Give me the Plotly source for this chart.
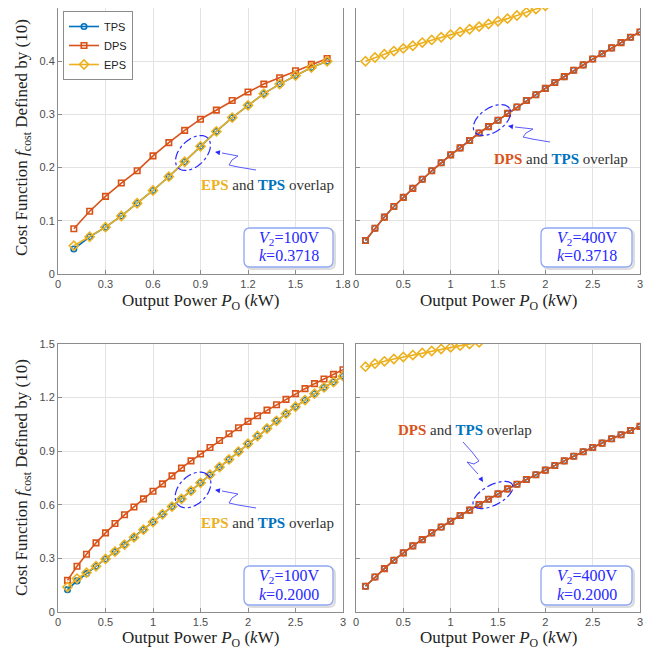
import numpy as np
import plotly.graph_objects as go

OFF = 8                    # page body margin of the html page
W, H = 663 - OFF, 655 - OFF

# ---------------- data ----------------
x_tl = [0.1, 0.2, 0.3, 0.4, 0.5, 0.6, 0.7, 0.8, 0.9, 1.0, 1.1, 1.2, 1.3, 1.4, 1.5, 1.6, 1.7]
tps_tl = [0.047, 0.070, 0.088, 0.109, 0.133, 0.157, 0.183, 0.211, 0.240, 0.268, 0.294, 0.317, 0.339, 0.357, 0.373, 0.388, 0.400]
dps_tl = [0.085, 0.118, 0.146, 0.171, 0.194, 0.222, 0.247, 0.270, 0.291, 0.308, 0.326, 0.342, 0.357, 0.369, 0.382, 0.394, 0.405]
eps_tl = [0.053, 0.070, 0.088, 0.109, 0.133, 0.157, 0.183, 0.211, 0.240, 0.268, 0.294, 0.317, 0.339, 0.357, 0.373, 0.388, 0.400]

x_30 = [0.1, 0.2, 0.3, 0.4, 0.5, 0.6, 0.7, 0.8, 0.9, 1.0, 1.1, 1.2, 1.3, 1.4, 1.5,
        1.6, 1.7, 1.8, 1.9, 2.0, 2.1, 2.2, 2.3, 2.4, 2.5, 2.6, 2.7, 2.8, 2.9, 3.0]

dps_tr = [0.063, 0.086, 0.107, 0.127, 0.144, 0.161, 0.178, 0.194, 0.209, 0.224, 0.237, 0.251, 0.265, 0.277, 0.289,
          0.302, 0.314, 0.326, 0.337, 0.349, 0.360, 0.371, 0.383, 0.393, 0.404, 0.414, 0.425, 0.435, 0.445, 0.455]
tps_tr = list(dps_tr)
x_eps_tr = [0.1, 0.2, 0.3, 0.4, 0.5, 0.6, 0.7, 0.8, 0.9, 1.0, 1.1, 1.2, 1.3, 1.4, 1.5, 1.6, 1.7, 1.8, 1.9, 2.0]
eps_tr = [0.400, 0.407, 0.413, 0.419, 0.424, 0.429, 0.435, 0.440, 0.445, 0.450, 0.455, 0.460, 0.465, 0.470,
          0.475, 0.480, 0.486, 0.492, 0.498, 0.504]

dps_bl = [0.177, 0.256, 0.323, 0.387, 0.443, 0.495, 0.544, 0.588, 0.633, 0.676, 0.717, 0.762, 0.805, 0.846, 0.884,
          0.921, 0.960, 0.998, 1.031, 1.067, 1.098, 1.130, 1.160, 1.190, 1.222, 1.250, 1.278, 1.304, 1.330, 1.356]
eps_bl = [0.140, 0.187, 0.220, 0.256, 0.297, 0.338, 0.377, 0.418, 0.461, 0.504, 0.547, 0.590, 0.633, 0.678, 0.723,
          0.768, 0.811, 0.854, 0.898, 0.942, 0.985, 1.027, 1.070, 1.110, 1.149, 1.186, 1.222, 1.257, 1.287, 1.320]
tps_bl = [0.125, 0.174, 0.215, 0.256, 0.297, 0.338, 0.377, 0.418, 0.461, 0.504, 0.547, 0.590, 0.633, 0.678, 0.723,
          0.768, 0.811, 0.854, 0.898, 0.942, 0.985, 1.027, 1.070, 1.110, 1.149, 1.186, 1.222, 1.257, 1.287, 1.320]

dps_br = [0.144, 0.196, 0.243, 0.290, 0.331, 0.370, 0.405, 0.443, 0.476, 0.508, 0.540, 0.570, 0.602, 0.631, 0.661,
          0.689, 0.715, 0.742, 0.768, 0.794, 0.820, 0.846, 0.872, 0.897, 0.921, 0.945, 0.970, 0.992, 1.016, 1.039]
tps_br = list(dps_br)
x_eps_br = [0.1, 0.2, 0.3, 0.4, 0.5, 0.6, 0.7, 0.8, 0.9, 1.0, 1.1, 1.2, 1.3]
eps_br = [1.373, 1.390, 1.403, 1.416, 1.427, 1.438, 1.450, 1.461, 1.472, 1.481, 1.491, 1.500, 1.509]

series_names = ["TPS", "DPS", "EPS"]
tick_tl_x = [0, 0.3, 0.6, 0.9, 1.2, 1.5, 1.8]
tick_x3 = [0, 0.5, 1, 1.5, 2, 2.5, 3]
tick_y_top = [0, 0.1, 0.2, 0.3, 0.4, 0.5]
tick_y_bot = [0, 0.3, 0.6, 0.9, 1.2, 1.5]

# ---------------- style ----------------
C_TPS, C_DPS, C_EPS = "#0072BD", "#D95319", "#EDB120"
BLUE = "#2828ff"
SERIF = "Liberation Serif"
SANS = "Liberation Sans"

def px(xp, yp):
    """window pixel -> paper fraction"""
    return (xp - OFF) / W, 1 - (yp - OFF) / H

def clamp(v):
    return min(1.0, max(0.0, v))

# panel pixel boxes: (x0, x1, y0top, y1bottom)
panels = {
    "tl": (58, 343, 8, 274),
    "tr": (356, 640, 8, 274),
    "bl": (58, 343, 344, 612),
    "br": (356, 640, 344, 612),
}

fig = go.Figure()

def add_panel(xaxis, yaxis, xs_list, ys_list, showleg):
    markers = [("circle-open", 5.5, C_TPS), ("square-open", 5.5, C_DPS), ("diamond-open", 7, C_EPS)]
    for name, xs, ys, (sym, sz, col) in zip(series_names, xs_list, ys_list, markers):
        fig.add_trace(go.Scatter(
            x=xs, y=ys, mode="lines+markers", name=name,
            line=dict(color=col, width=1.6),
            marker=dict(symbol=sym, size=sz, color=col, line=dict(width=1.6, color=col)),
            xaxis=xaxis, yaxis=yaxis, showlegend=showleg))

add_panel("x", "y", [x_tl, x_tl, x_tl], [tps_tl, dps_tl, eps_tl], True)
add_panel("x2", "y2", [x_30, x_30, x_eps_tr], [tps_tr, dps_tr, eps_tr], False)
add_panel("x3", "y3", [x_30, x_30, x_30], [tps_bl, dps_bl, eps_bl], False)
add_panel("x4", "y4", [x_30, x_30, x_eps_br], [tps_br, dps_br, eps_br], False)

def axis_common():
    return dict(showline=True, mirror=True, linecolor="#8c8c8c", linewidth=1,
                showgrid=True, gridcolor="#e3e3e3", gridwidth=1, zeroline=False,
                ticks="inside", ticklen=4, tickcolor="#8c8c8c", automargin=False,
                tickfont=dict(family=SANS, size=11, color="#4d4d4d"))

def dom(p):
    x0, x1, yt, yb = panels[p]
    a0, b0 = px(x0, yb)
    a1, b1 = px(x1, yt)
    return [clamp(a0), clamp(a1)], [clamp(b0), clamp(b1)]

layout = dict(width=W, height=H, margin=dict(l=0, r=0, t=0, b=0, autoexpand=False),
              paper_bgcolor="white", plot_bgcolor="white")
for i, (p, xr, xt, yr, yt, ylab) in enumerate([
        ("tl", [0, 1.8], tick_tl_x, [0, 0.5], tick_y_top, True),
        ("tr", [0, 3], tick_x3, [0, 0.5], tick_y_top, False),
        ("bl", [0, 3], tick_x3, [0, 1.5], tick_y_bot, True),
        ("br", [0, 3], tick_x3, [0, 1.5], tick_y_bot, False)]):
    suf = "" if i == 0 else str(i + 1)
    xd, yd = dom(p)
    xa = axis_common(); xa.update(domain=xd, range=xr, tickvals=xt, anchor="y" + suf)
    ya = axis_common(); ya.update(domain=yd, range=yr, tickvals=yt, anchor="x" + suf,
                                  showticklabels=ylab)
    layout["xaxis" + suf] = xa
    layout["yaxis" + suf] = ya

lx, ly = px(63, 11)
layout["legend"] = dict(x=lx, y=ly, xanchor="left", yanchor="top",
                        bgcolor="white", bordercolor="#8c8c8c", borderwidth=1,
                        font=dict(family=SANS, size=11, color="#222"),
                        itemwidth=30, tracegroupgap=0)
fig.update_layout(**layout)

shapes = []
annotations = []

def text_at(cx, cy, text, **kw):
    ax_, ay_ = px(cx, cy)
    d = dict(x=ax_, y=ay_, xref="paper", yref="paper", text=text, showarrow=False,
             xanchor="center", yanchor="middle")
    d.update(kw)
    annotations.append(d)

# axis titles
xtitle = "Output Power <i>P</i><sub>O</sub> (<i>k</i>W)"
ytitle = "Cost Function <i>f</i><sub>cost</sub> Defined by (10)"
for cx, cy in [(200, 302), (498, 302), (200, 639), (498, 639)]:
    text_at(cx, cy, xtitle, font=dict(family=SERIF, size=17, color="#222"))
for cy in [138, 478]:
    text_at(23, cy, ytitle, textangle=-90, font=dict(family=SERIF, size=17, color="#222"))

# info boxes
def rounded_rect(x0, y0, x1, y1, r):
    def P(a, b):
        u, v = px(a, b)
        return f"{u:.5f},{v:.5f}"
    return (f"M {P(x0 + r, y0)} L {P(x1 - r, y0)} Q {P(x1, y0)} {P(x1, y0 + r)} "
            f"L {P(x1, y1 - r)} Q {P(x1, y1)} {P(x1 - r, y1)} L {P(x0 + r, y1)} "
            f"Q {P(x0, y1)} {P(x0, y1 - r)} L {P(x0, y0 + r)} Q {P(x0, y0)} {P(x0 + r, y0)} Z")

boxes = [((244, 228, 333, 267), "100V", "0.3718"),
         ((541, 228, 632, 267), "400V", "0.3718"),
         ((244, 566, 333, 605), "100V", "0.2000"),
         ((541, 566, 632, 605), "400V", "0.2000")]
for (x0, y0, x1, y1), v, k in boxes:
    shapes.append(dict(type="path", path=rounded_rect(x0 + 2, y0 + 2, x1 + 2, y1 + 2, 6),
                       xref="paper", yref="paper", line=dict(color="#dcdcdc", width=2), fillcolor="#ececec"))
    shapes.append(dict(type="path", path=rounded_rect(x0, y0, x1, y1, 6),
                       xref="paper", yref="paper", line=dict(color="#8fa6f2", width=1.3), fillcolor="white"))
    cx = (x0 + x1) / 2
    text_at(cx, y0 + 10, "<i>V</i><sub>2</sub>=" + v, font=dict(family=SERIF, size=16, color=BLUE))
    text_at(cx, y0 + 28, f"<i>k</i>={k}", font=dict(family=SERIF, size=16, color=BLUE))

# overlap notes
def note(first, col):
    return (f"<b><span style='color:{col}'>{first}</span></b> and "
            f"<b><span style='color:{C_TPS}'>TPS</span></b> overlap")

for (cx, cy), first, col in [((267, 185), "EPS", C_EPS), ((561, 159), "DPS", C_DPS),
                             ((267, 523), "EPS", C_EPS), ((465, 430), "DPS", C_DPS)]:
    text_at(cx, cy, note(first, col), font=dict(family=SERIF, size=15, color="#333"))

# dash-dot ellipses
def ellipse(cx, cy, a, b, ang):
    t = np.linspace(0, 2 * np.pi, 60)
    th = np.deg2rad(ang)
    xs = cx + a * np.cos(t) * np.cos(th) - b * np.sin(t) * np.sin(th)
    ys = cy - (a * np.cos(t) * np.sin(th) + b * np.sin(t) * np.cos(th))
    pts = [px(x_, y_) for x_, y_ in zip(xs, ys)]
    return "M " + " L ".join(f"{u:.5f},{v:.5f}" for u, v in pts) + " Z"

for cx, cy, a, b, ang in [(193, 153, 21, 13, 45), (492, 120, 21, 12, 34),
                          (193, 490, 21, 14, 45), (493, 495, 22, 10, 28)]:
    shapes.append(dict(type="path", path=ellipse(cx, cy, a, b, ang), xref="paper", yref="paper",
                       line=dict(color=BLUE, width=1.2, dash="dashdot")))

# squiggly arrows
def squiggle(pts):
    P = [px(*p) for p in pts]
    s = f"M {P[0][0]:.5f},{P[0][1]:.5f}"
    for u, v in P[1:]:
        s += f" L {u:.5f},{v:.5f}"
    return s

arrows = [
    [(256, 170), (238, 167), (229, 165), (232, 160), (238, 156), (222, 153)],
    [(550, 142), (532, 139), (523, 137), (526, 133), (533, 129), (515, 127)],
    [(256, 508), (238, 505), (229, 503), (232, 498), (238, 494), (222, 491)],
    [(463, 442), (472, 452), (479, 461), (474, 464), (467, 462), (478, 474)],
]
tips = [(215, 152), (508, 126), (215, 490), (483, 482)]
for pts, tip in zip(arrows, tips):
    shapes.append(dict(type="path", path=squiggle(pts), xref="paper", yref="paper",
                       line=dict(color="#5a5aff", width=1)))
    tx, ty = px(*tip)
    annotations.append(dict(x=tx, y=ty, xref="paper", yref="paper", text=" ", showarrow=True,
                            ax=pts[-1][0] - tip[0], ay=pts[-1][1] - tip[1],
                            arrowhead=2, arrowsize=1, arrowwidth=1, arrowcolor=BLUE, standoff=0))

fig.update_layout(shapes=shapes, annotations=annotations)
fig.write_html("out.html")
